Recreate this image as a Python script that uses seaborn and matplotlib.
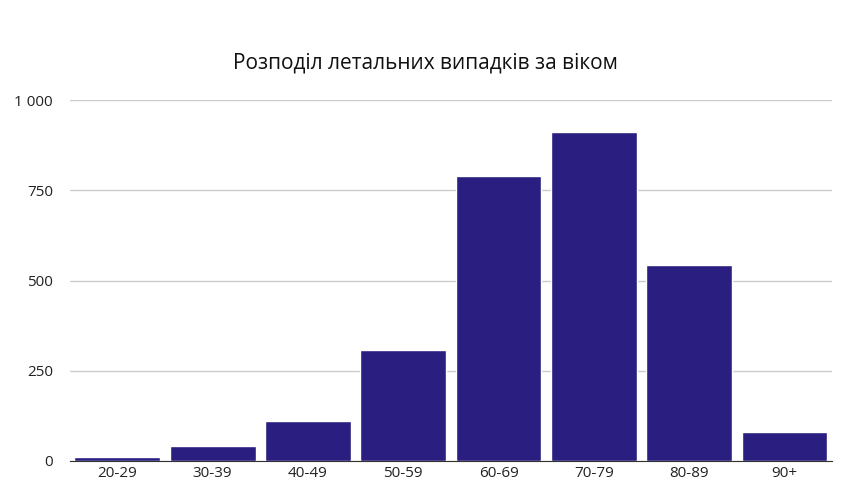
import matplotlib
matplotlib.use("Agg")
import matplotlib.pyplot as plt
import seaborn as sns
import pandas as pd

# Data
ages = ["20-29", "30-39", "40-49", "50-59", "60-69", "70-79", "80-89", "90+"]
deaths = [11, 42, 111, 307, 789, 911, 543, 80]

df = pd.DataFrame({"age": ages, "deaths": deaths})

sns.set_style("white")
plt.rcParams['font.family'] = ['Open Sans', 'DejaVu Sans']

fig = plt.figure(figsize=(8.5, 5), dpi=100)
ax = fig.add_axes([0.082, 0.078, 0.897, 0.722])

sns.barplot(data=df, x="age", y="deaths", color="#2a1f80", width=0.9, saturation=1, ax=ax)

ax.set_ylim(0, 1000)
ax.set_yticks([0, 250, 500, 750, 1000])
ax.set_yticklabels(["0", "250", "500", "750", "1 000"])
ax.yaxis.grid(True, color="#cccccc", linewidth=1)
ax.set_axisbelow(True)
ax.set_xlim(-0.5, len(ages) - 0.5)
for s in ["left", "right", "top"]:
    ax.spines[s].set_visible(False)
ax.spines["bottom"].set_color("#333333")
ax.tick_params(axis="both", length=0, labelsize=11, colors="#222222")
ax.tick_params(axis="y", pad=12)
ax.set_xlabel("")
ax.set_ylabel("")

fig.suptitle("Розподіл летальних випадків за віком", x=0.5, y=0.895, fontsize=15, color="#111111")

fig.savefig("out.png")
